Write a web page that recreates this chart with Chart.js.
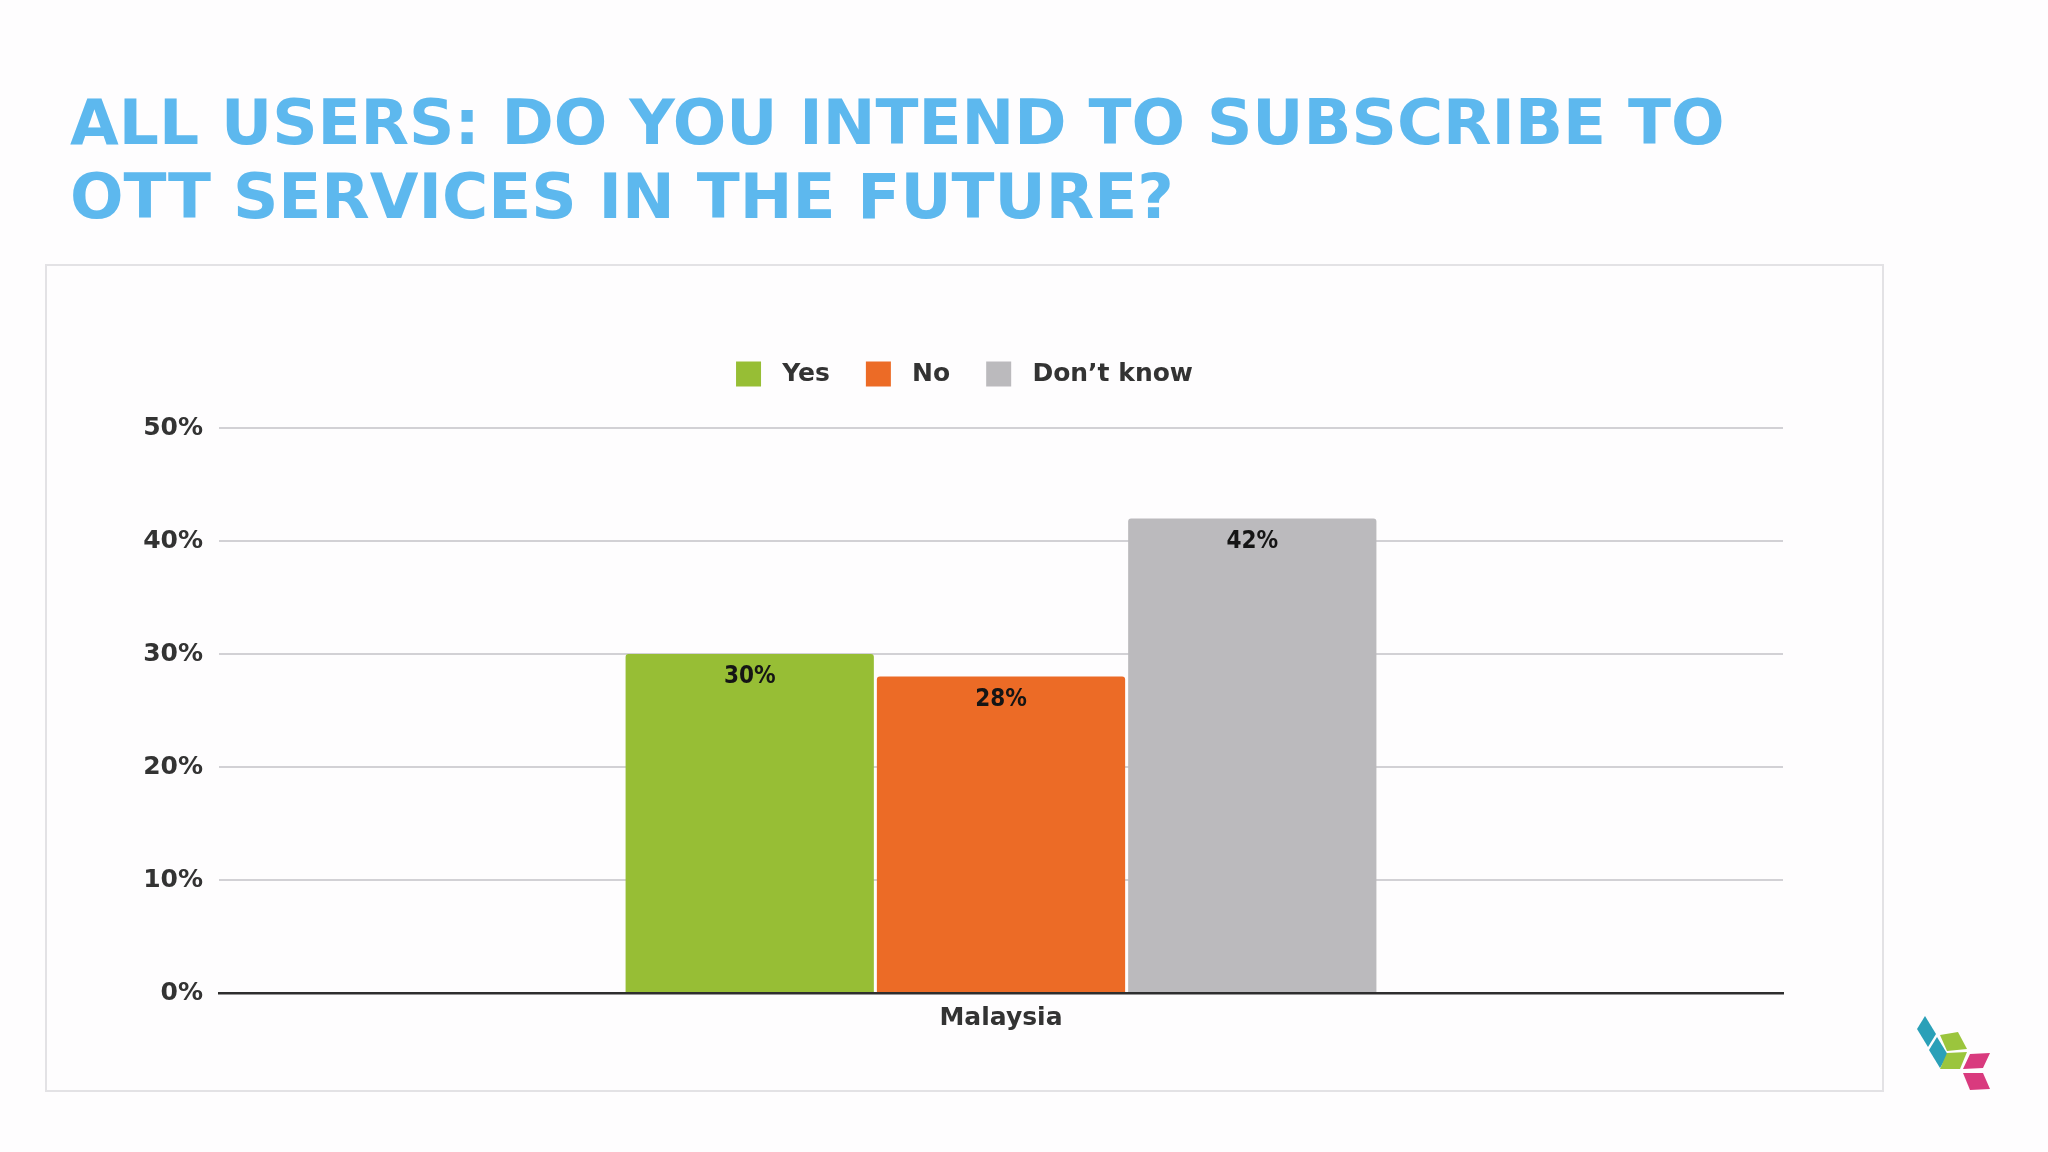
<!DOCTYPE html>
<html>
<head>
<meta charset="utf-8">
<script src="https://cdn.jsdelivr.net/npm/chart.js@4"></script>
<style>
  html, body { margin: 0; padding: 0; background: #fefdfe; }
  body { width: 2048px; height: 1152px; position: relative; overflow: hidden; }
  #title {
    position: absolute; left: 70px; top: 86px;
    font-family: "DejaVu Sans", sans-serif; font-weight: bold;
    font-size: 63px; line-height: 74px; color: #5db8ee; white-space: nowrap;
  }
  #box {
    position: absolute; left: 45px; top: 264px; width: 1835px; height: 824px;
    border: 2px solid #e3e2e5; background: #fefdfe;
  }
  #logo { position: absolute; left: 1900px; top: 1005px; }
</style>
</head>
<body>
<div id="title">ALL USERS: DO YOU INTEND TO SUBSCRIBE TO<br>OTT SERVICES IN THE FUTURE?</div>
<div id="box"><canvas id="chart" width="1835" height="824"></canvas></div>
<svg id="logo" width="110" height="100" viewBox="1900 1005 110 100">
  <polygon points="1917,1029 1925,1016 1936,1034 1928,1047" fill="#2aa0b8"/>
  <polygon points="1929,1050 1937,1037 1948,1055 1940,1068" fill="#2aa0b8"/>
  <polygon points="1940,1035 1958,1032 1967,1049 1947,1051" fill="#9bc53d"/>
  <polygon points="1947,1053 1967,1052 1960,1069 1940,1069" fill="#9bc53d"/>
  <polygon points="1970,1054 1990,1053 1983,1068 1963,1069" fill="#d93a7e"/>
  <polygon points="1963,1073 1983,1073 1990,1089 1970,1090" fill="#d93a7e"/>
</svg>
<script>
const categories = ['Malaysia'];
const seriesNames = ['Yes', 'No', 'Don\u2019t know'];
const yesValues = [30];
const noValues = [28];
const dontKnowValues = [42];
const yTicks = [0, 10, 20, 30, 40, 50];

const seriesColors = ['#97be35', '#ec6b26', '#bbbabd'];
const seriesValues = [yesValues, noValues, dontKnowValues];

// value labels inside the top of each bar
const barLabels = {
  id: 'barLabels',
  afterDatasetsDraw(chart) {
    const ctx = chart.ctx;
    ctx.save();
    ctx.font = 'bold 24px "DejaVu Sans Condensed", "DejaVu Sans", sans-serif';
    ctx.fillStyle = '#151515';
    ctx.textAlign = 'center';
    ctx.textBaseline = 'middle';
    chart.data.datasets.forEach((ds, i) => {
      chart.getDatasetMeta(i).data.forEach((bar, j) => {
        ctx.fillText(ds.data[j] + '%', bar.x, bar.y + 23);
      });
    });
    ctx.restore();
  }
};

// extra room under the legend, and centre it on the whole box
const legendSpace = {
  id: 'legendSpace',
  beforeInit(chart) {
    const fit = chart.legend.fit;
    chart.legend.fit = function () {
      fit.bind(chart.legend)();
      this.height += 31.5;
    };
  },
  afterLayout(chart) {
    chart.legend.left = 0;
    chart.legend.right = chart.width;
  }
};

const ctx = document.getElementById('chart').getContext('2d');
const chart = new Chart(ctx, {
  type: 'bar',
  data: {
    labels: categories,
    datasets: seriesNames.map((name, i) => ({
      label: name,
      data: seriesValues[i],
      backgroundColor: seriesColors[i],
      borderRadius: { topLeft: 3, topRight: 3 },
      borderSkipped: 'bottom',
      categoryPercentage: 0.482,
      barPercentage: 0.988
    }))
  },
  options: {
    responsive: false,
    animation: false,
    layout: { padding: { top: 59.5, right: 99, left: 0, bottom: 0 } },
    plugins: {
      tooltip: { enabled: false },
      legend: {
        position: 'top',
        labels: {
          boxWidth: 25,
          boxHeight: 25,
          padding: 36,
          color: '#333333',
          font: { family: '"DejaVu Sans", sans-serif', size: 25, weight: 'bold' },
          generateLabels(chart) {
            return Chart.defaults.plugins.legend.labels.generateLabels(chart)
              .map(item => ({ ...item, text: ' ' + item.text }));
          }
        }
      }
    },
    scales: {
      x: {
        grid: { display: false, drawTicks: false },
        border: { display: true, color: '#2e2e2e', width: 2.5 },
        ticks: {
          padding: 10,
          color: '#333333',
          font: { family: '"DejaVu Sans", sans-serif', size: 25, weight: 'bold' }
        },
        afterFit(scale) { scale.height = 97; }
      },
      y: {
        min: 0,
        max: 50,
        afterBuildTicks(scale) { scale.ticks = yTicks.map(v => ({ value: v })); },
        grid: { color: '#d2d1d5', lineWidth: 2, drawTicks: false },
        border: { display: false },
        ticks: {
          padding: 16,
          color: '#333333',
          font: { family: '"DejaVu Sans", sans-serif', size: 25, weight: 'bold' },
          callback: v => v + '%'
        },
        afterFit(scale) { scale.width = 172; }
      }
    }
  },
  plugins: [barLabels, legendSpace]
});
</script>
</body>
</html>
